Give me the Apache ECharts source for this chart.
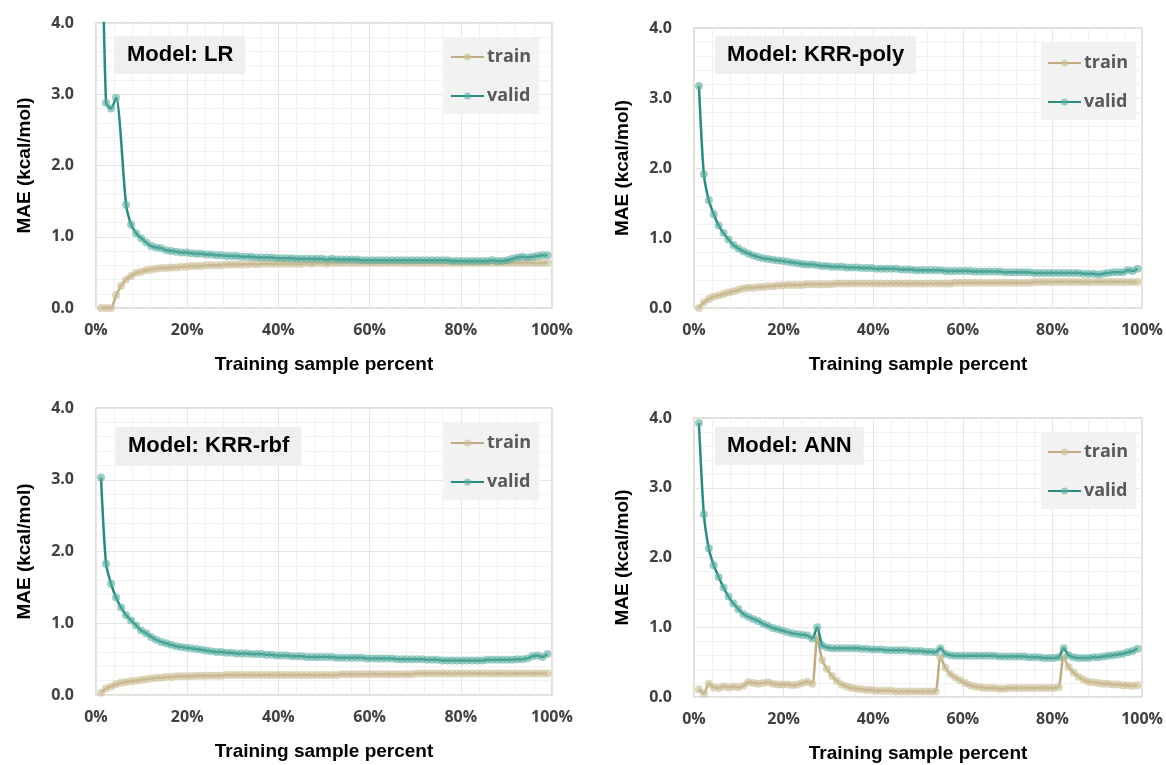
<!DOCTYPE html>
<html>
<head>
<meta charset="utf-8">
<script src="https://cdn.jsdelivr.net/npm/echarts@6/dist/echarts.min.js"></script>
<style>
html,body{margin:0;padding:0;background:#fff;}
#main{width:1166px;height:765px;}
</style>
</head>
<body>
<div id="main"></div>
<script>
// Training sample percent (x positions of the points)
const xPercent = [
 1.1, 2.2, 3.3, 4.4, 5.5, 6.6, 7.7, 8.8, 9.9, 11.0,
 12.1, 13.2, 14.3, 15.4, 16.5, 17.6, 18.7, 19.8, 20.9, 22.0,
 23.1, 24.2, 25.3, 26.4, 27.5, 28.6, 29.7, 30.8, 31.9, 33.0,
 34.1, 35.2, 36.3, 37.4, 38.5, 39.6, 40.7, 41.8, 42.9, 44.0,
 45.1, 46.2, 47.3, 48.4, 49.5, 50.6, 51.7, 52.8, 53.9, 55.0,
 56.1, 57.2, 58.3, 59.4, 60.5, 61.6, 62.7, 63.8, 64.9, 66.0,
 67.1, 68.2, 69.3, 70.4, 71.5, 72.6, 73.7, 74.8, 75.9, 77.0,
 78.1, 79.2, 80.3, 81.4, 82.5, 83.6, 84.7, 85.8, 86.9, 88.0,
 89.1, 90.2, 91.3, 92.4, 93.5, 94.6, 95.7, 96.8, 97.9, 99.0
];

const modelTitles = ['Model: LR', 'Model: KRR-poly', 'Model: KRR-rbf', 'Model: ANN'];
const xTickValues = [0, 20, 40, 60, 80, 100];
const yTickValues = [0, 1, 2, 3, 4];

const lrTrain = [
 0.00, 0.00, 0.00, 0.18, 0.31, 0.40, 0.45, 0.49, 0.51, 0.53,
 0.54, 0.55, 0.56, 0.56, 0.57, 0.57, 0.58, 0.58, 0.59, 0.59,
 0.59, 0.60, 0.60, 0.60, 0.60, 0.61, 0.61, 0.61, 0.61, 0.61,
 0.62, 0.61, 0.62, 0.62, 0.62, 0.62, 0.62, 0.62, 0.62, 0.62,
 0.62, 0.63, 0.62, 0.63, 0.63, 0.62, 0.63, 0.63, 0.63, 0.63,
 0.63, 0.63, 0.63, 0.63, 0.63, 0.63, 0.63, 0.63, 0.63, 0.63,
 0.63, 0.63, 0.63, 0.63, 0.63, 0.63, 0.63, 0.63, 0.63, 0.63,
 0.63, 0.63, 0.63, 0.63, 0.63, 0.63, 0.63, 0.63, 0.63, 0.63,
 0.63, 0.63, 0.63, 0.63, 0.63, 0.63, 0.63, 0.63, 0.63, 0.63
];
const lrValid = [
 6.40, 2.88, 2.80, 2.95, null, 1.45, 1.17, 1.05, 0.98, 0.92,
 0.87, 0.85, 0.84, 0.81, 0.80, 0.79, 0.78, 0.78, 0.77, 0.76,
 0.76, 0.75, 0.75, 0.74, 0.74, 0.73, 0.73, 0.73, 0.72, 0.72,
 0.72, 0.71, 0.71, 0.71, 0.71, 0.70, 0.70, 0.70, 0.70, 0.69,
 0.69, 0.69, 0.69, 0.69, 0.69, 0.68, 0.69, 0.68, 0.68, 0.68,
 0.68, 0.68, 0.67, 0.67, 0.67, 0.67, 0.67, 0.67, 0.67, 0.67,
 0.67, 0.67, 0.67, 0.67, 0.67, 0.67, 0.67, 0.67, 0.67, 0.67,
 0.66, 0.66, 0.66, 0.66, 0.66, 0.66, 0.66, 0.66, 0.67, 0.66,
 0.66, 0.67, 0.69, 0.71, 0.72, 0.71, 0.72, 0.73, 0.74, 0.74
];
const polyTrain = [
 0.00, 0.08, 0.13, 0.16, 0.18, 0.20, 0.22, 0.24, 0.26, 0.28,
 0.29, 0.29, 0.30, 0.30, 0.31, 0.31, 0.32, 0.32, 0.33, 0.33,
 0.33, 0.33, 0.34, 0.34, 0.34, 0.34, 0.34, 0.34, 0.35, 0.35,
 0.35, 0.35, 0.35, 0.35, 0.35, 0.35, 0.35, 0.35, 0.35, 0.35,
 0.35, 0.35, 0.35, 0.35, 0.35, 0.35, 0.35, 0.35, 0.35, 0.35,
 0.35, 0.35, 0.36, 0.36, 0.36, 0.36, 0.36, 0.36, 0.36, 0.36,
 0.36, 0.36, 0.36, 0.36, 0.36, 0.36, 0.36, 0.36, 0.37, 0.37,
 0.37, 0.37, 0.37, 0.37, 0.37, 0.37, 0.37, 0.37, 0.37, 0.37,
 0.37, 0.37, 0.37, 0.37, 0.37, 0.37, 0.37, 0.37, 0.37, 0.37
];
const polyValid = [
 3.17, 1.91, 1.54, 1.34, 1.18, 1.07, 0.98, 0.90, 0.85, 0.81,
 0.78, 0.75, 0.73, 0.71, 0.70, 0.69, 0.68, 0.67, 0.66, 0.65,
 0.64, 0.63, 0.62, 0.62, 0.61, 0.60, 0.60, 0.59, 0.59, 0.59,
 0.58, 0.58, 0.58, 0.57, 0.57, 0.57, 0.56, 0.56, 0.56, 0.56,
 0.56, 0.55, 0.55, 0.55, 0.54, 0.54, 0.54, 0.54, 0.54, 0.54,
 0.53, 0.53, 0.53, 0.53, 0.53, 0.53, 0.52, 0.52, 0.52, 0.52,
 0.52, 0.52, 0.51, 0.51, 0.51, 0.51, 0.51, 0.51, 0.50, 0.50,
 0.50, 0.50, 0.50, 0.50, 0.50, 0.50, 0.50, 0.50, 0.49, 0.49,
 0.49, 0.48, 0.49, 0.50, 0.51, 0.51, 0.51, 0.54, 0.53, 0.56
];
const rbfTrain = [
 0.03, 0.09, 0.12, 0.15, 0.17, 0.18, 0.19, 0.20, 0.21, 0.22,
 0.23, 0.24, 0.24, 0.25, 0.25, 0.26, 0.26, 0.26, 0.26, 0.27,
 0.27, 0.27, 0.27, 0.27, 0.27, 0.28, 0.28, 0.28, 0.28, 0.28,
 0.28, 0.28, 0.28, 0.28, 0.28, 0.28, 0.28, 0.28, 0.28, 0.28,
 0.28, 0.28, 0.28, 0.28, 0.28, 0.28, 0.28, 0.28, 0.29, 0.29,
 0.29, 0.29, 0.29, 0.29, 0.29, 0.29, 0.29, 0.29, 0.29, 0.29,
 0.29, 0.29, 0.29, 0.30, 0.30, 0.30, 0.30, 0.30, 0.30, 0.30,
 0.30, 0.30, 0.30, 0.30, 0.30, 0.30, 0.30, 0.30, 0.30, 0.30,
 0.30, 0.30, 0.30, 0.30, 0.30, 0.30, 0.30, 0.30, 0.30, 0.30
];
const rbfValid = [
 3.03, 1.83, 1.55, 1.36, 1.22, 1.11, 1.04, 0.97, 0.90, 0.86,
 0.81, 0.77, 0.74, 0.72, 0.70, 0.68, 0.67, 0.66, 0.65, 0.64,
 0.63, 0.62, 0.61, 0.60, 0.60, 0.59, 0.59, 0.58, 0.58, 0.58,
 0.57, 0.57, 0.57, 0.56, 0.56, 0.55, 0.55, 0.55, 0.54, 0.54,
 0.54, 0.53, 0.53, 0.53, 0.53, 0.53, 0.53, 0.52, 0.52, 0.52,
 0.52, 0.52, 0.52, 0.51, 0.51, 0.51, 0.51, 0.51, 0.51, 0.50,
 0.50, 0.50, 0.50, 0.50, 0.50, 0.49, 0.49, 0.49, 0.48, 0.48,
 0.48, 0.48, 0.48, 0.48, 0.48, 0.48, 0.48, 0.49, 0.49, 0.49,
 0.49, 0.49, 0.49, 0.50, 0.50, 0.51, 0.54, 0.55, 0.53, 0.57
];
const annTrain = [
 0.11, 0.05, 0.19, 0.14, 0.13, 0.15, 0.14, 0.15, 0.14, 0.16,
 0.21, 0.20, 0.19, 0.20, 0.21, 0.19, 0.18, 0.18, 0.18, 0.17,
 0.18, 0.20, 0.22, 0.19, 0.85, 0.53, 0.40, 0.30, 0.23, 0.18,
 0.15, 0.13, 0.12, 0.11, 0.10, 0.10, 0.09, 0.09, 0.09, 0.09,
 0.08, 0.08, 0.08, 0.08, 0.08, 0.08, 0.08, 0.08, 0.08, 0.57,
 0.42, 0.33, 0.28, 0.24, 0.20, 0.17, 0.15, 0.14, 0.13, 0.13,
 0.13, 0.12, 0.12, 0.13, 0.13, 0.13, 0.13, 0.13, 0.13, 0.13,
 0.13, 0.13, 0.13, 0.14, 0.57, 0.43, 0.35, 0.29, 0.25, 0.22,
 0.21, 0.20, 0.19, 0.19, 0.18, 0.18, 0.17, 0.17, 0.16, 0.17
];
const annValid = [
 3.93, 2.62, 2.13, 1.89, 1.72, 1.57, 1.44, 1.34, 1.26, 1.19,
 1.15, 1.12, 1.09, 1.05, 1.02, 0.99, 0.97, 0.95, 0.93, 0.91,
 0.90, 0.89, 0.88, 0.84, 1.00, 0.74, 0.71, 0.70, 0.70, 0.70,
 0.70, 0.70, 0.70, 0.69, 0.69, 0.68, 0.68, 0.68, 0.67, 0.67,
 0.67, 0.67, 0.67, 0.66, 0.66, 0.66, 0.65, 0.65, 0.64, 0.70,
 0.62, 0.60, 0.59, 0.59, 0.59, 0.59, 0.59, 0.59, 0.59, 0.59,
 0.59, 0.58, 0.58, 0.58, 0.58, 0.58, 0.58, 0.57, 0.57, 0.57,
 0.56, 0.56, 0.56, 0.57, 0.70, 0.60, 0.57, 0.56, 0.56, 0.56,
 0.57, 0.57, 0.58, 0.59, 0.60, 0.61, 0.62, 0.64, 0.66, 0.69
];

const trainSets = [lrTrain, polyTrain, rbfTrain, annTrain];
const validSets = [lrValid, polyValid, rbfValid, annValid];

// layout
const grids = [
  {left: 96, right: 614, top: 23, bottom: 457},
  {left: 694, right: 19, top: 28, bottom: 457},
  {left: 96, right: 614, top: 408, bottom: 70},
  {left: 694, right: 19, top: 418, bottom: 68}
];
const titlePos = [
  {left: 115, top: 36}, {left: 715, top: 36}, {left: 116, top: 427}, {left: 715, top: 427}
];
const legendPos = [
  {left: 444, top: 37}, {left: 1041, top: 43}, {left: 444, top: 423}, {left: 1041, top: 432}
];

const TRAIN_LINE = '#bfac84';
const TRAIN_DOT = 'rgba(205,190,152,0.65)';
const VALID_LINE = '#2b8a7e';
const VALID_DOT = 'rgba(88,174,160,0.6)';

const fmtY = v => v.toFixed(1);

const option = {
  backgroundColor: '#ffffff',
  animation: false,
  title: modelTitles.map((t, k) => ({
    text: t,
    left: titlePos[k].left, top: titlePos[k].top,
    backgroundColor: '#efefef',
    padding: [7, 12, 7, 12],
    textStyle: {fontFamily: 'Liberation Sans, Arial, sans-serif', fontWeight: 'bold', fontSize: 22, color: '#000', lineHeight: 24}
  })),
  legend: legendPos.map(p => ({
    data: ['train', 'valid'],
    orient: 'vertical',
    left: p.left, top: p.top,
    backgroundColor: '#f2f2f2',
    padding: [9, 8, 7, 6],
    itemGap: 17,
    itemWidth: 33,
    itemHeight: 9,
    selectedMode: false,
    textStyle: {fontFamily: 'Open Sans, sans-serif', fontWeight: 'bold', fontSize: 18, color: '#595959', lineHeight: 22, padding: [0, 0, 0, -2]}
  })),
  grid: grids.map(g => Object.assign({show: true, borderColor: '#dad4c2', borderWidth: 1.5, backgroundColor: 'transparent', containLabel: false}, g)),
  xAxis: grids.map((g, k) => ({
    type: 'value', gridIndex: k, min: 0, max: 100, interval: 20,
    name: 'Training sample percent', nameLocation: 'middle', nameGap: 47,
    nameTextStyle: {fontFamily: 'Liberation Sans, Arial, sans-serif', fontWeight: 'bold', fontSize: 19, color: '#000'},
    axisLine: {show: false}, axisTick: {show: false},
    minorTick: {show: false, splitNumber: 5},
    minorSplitLine: {show: true, lineStyle: {color: '#f1f1f1', width: 1}},
    splitLine: {show: true, lineStyle: {color: '#e5e5e5', width: 1}},
    axisLabel: {margin: 14, formatter: '{value}%', fontFamily: 'Open Sans, sans-serif', fontWeight: 'bold', fontSize: 16, color: '#404040', customValues: xTickValues}
  })),
  yAxis: grids.map((g, k) => ({
    type: 'value', gridIndex: k, min: 0, max: 4, interval: 1,
    name: 'MAE (kcal/mol)', nameLocation: 'middle', nameGap: 62,
    nameTextStyle: {fontFamily: 'Liberation Sans, Arial, sans-serif', fontWeight: 'bold', fontSize: 19, color: '#000'},
    axisLine: {show: false}, axisTick: {show: false},
    minorTick: {show: false, splitNumber: 5},
    minorSplitLine: {show: true, lineStyle: {color: '#f1f1f1', width: 1}},
    splitLine: {show: true, lineStyle: {color: '#e5e5e5', width: 1}},
    axisLabel: {margin: 22, formatter: fmtY, fontFamily: 'Open Sans, sans-serif', fontWeight: 'bold', fontSize: 16, color: '#404040', customValues: yTickValues}
  })),
  series: []
};

for (let k = 0; k < 4; k++) {
  option.series.push({
    name: 'train', type: 'line', xAxisIndex: k, yAxisIndex: k,
    data: xPercent.map((x, i) => [x, trainSets[k][i]]),
    smooth: 0.25, clip: true, connectNulls: true,
    symbol: 'circle', symbolSize: 8,
    lineStyle: {color: TRAIN_LINE, width: 2.5},
    itemStyle: {color: TRAIN_DOT, borderWidth: 0},
    z: 2
  });
  option.series.push({
    name: 'valid', type: 'line', xAxisIndex: k, yAxisIndex: k,
    data: xPercent.map((x, i) => [x, validSets[k][i] === null ? null : validSets[k][i]]).map(d => d[1] === null ? [d[0], '-'] : d),
    smooth: 0.25, clip: true, connectNulls: true,
    symbol: 'circle', symbolSize: 8,
    lineStyle: {color: VALID_LINE, width: 2.5},
    itemStyle: {color: VALID_DOT, borderWidth: 0},
    z: 3
  });
}

const chart = echarts.init(document.getElementById('main'), null, {renderer: 'canvas'});
chart.setOption(option);
</script>
</body>
</html>
